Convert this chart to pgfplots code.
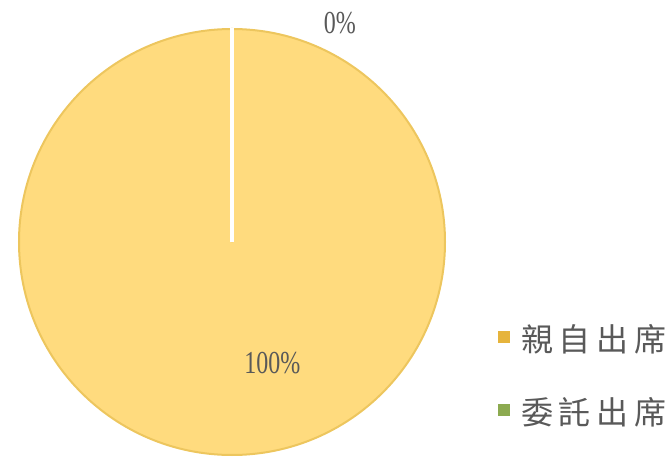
\documentclass[border=0pt]{standalone}
\usepackage{pgfplots}
\pgfplotsset{compat=1.18}
\usepackage{pgfplotstable}
\usepackage{fontspec}
\setmainfont{Liberation Serif}[FakeStretch=0.75]
\newfontfamily\cjk{Noto Sans CJK TC}
\definecolor{pieY}{HTML}{FFDB7E}
\definecolor{pieEdge}{HTML}{EDC65E}
\definecolor{legY}{HTML}{E6B43C}
\definecolor{legG}{HTML}{8CAA50}
\definecolor{txt}{HTML}{595959}
\pgfplotstableread{
label value
a 100
b 0
}\piedata
\pgfplotstablegetelem{0}{value}\of\piedata \let\va\pgfplotsretval
\pgfplotstablegetelem{1}{value}\of\piedata \let\vb\pgfplotsretval
\pgfmathsetmacro{\ea}{90-3.6*\va}
\pgfmathsetmacro{\eb}{\ea-3.6*\vb}
\pgfmathtruncatemacro{\la}{\va}
\pgfmathtruncatemacro{\lb}{\vb}
\newcommand{\cj}[1]{\makebox[38pt][c]{#1}}
\begin{document}
\begin{tikzpicture}[x=1pt,y=1pt]
\useasboundingbox (0,0) rectangle (670,456);
\begin{axis}[at={(232pt,214pt)}, anchor=center, scale only axis,
  width=426pt, height=426pt, xmin=-1, xmax=1, ymin=-1, ymax=1,
  hide axis, clip=false]
\fill[pieY, draw=pieEdge, line width=2pt] (axis cs:0,0) -- (axis cs:0,1) arc[start angle=90, end angle=\ea, radius=213pt] -- cycle;
\fill[legG] (axis cs:0,0) -- (axis cs:0,1) arc[start angle=\ea, end angle=\eb, radius=213pt] -- cycle;
\draw[white, line width=4pt] (axis cs:0,0) -- (axis cs:0,1.005);
\node[txt, font=\fontsize{32}{32}\selectfont] at (axis cs:0.507,1.03) {\lb\%};
\node[txt, font=\fontsize{32}{32}\selectfont] at (axis cs:0.19,-0.568) {\la\%};
\end{axis}
\fill[legY] (498,113) rectangle (510,125);
\fill[legG] (498,40) rectangle (510,52);
\node[txt, anchor=center, inner sep=0pt, font=\cjk\fontsize{32}{32}\selectfont] at (594,117) {\cj{親}\cj{自}\cj{出}\cj{席}};
\node[txt, anchor=center, inner sep=0pt, font=\cjk\fontsize{32}{32}\selectfont] at (594,44) {\cj{委}\cj{託}\cj{出}\cj{席}};
\end{tikzpicture}
\end{document}
